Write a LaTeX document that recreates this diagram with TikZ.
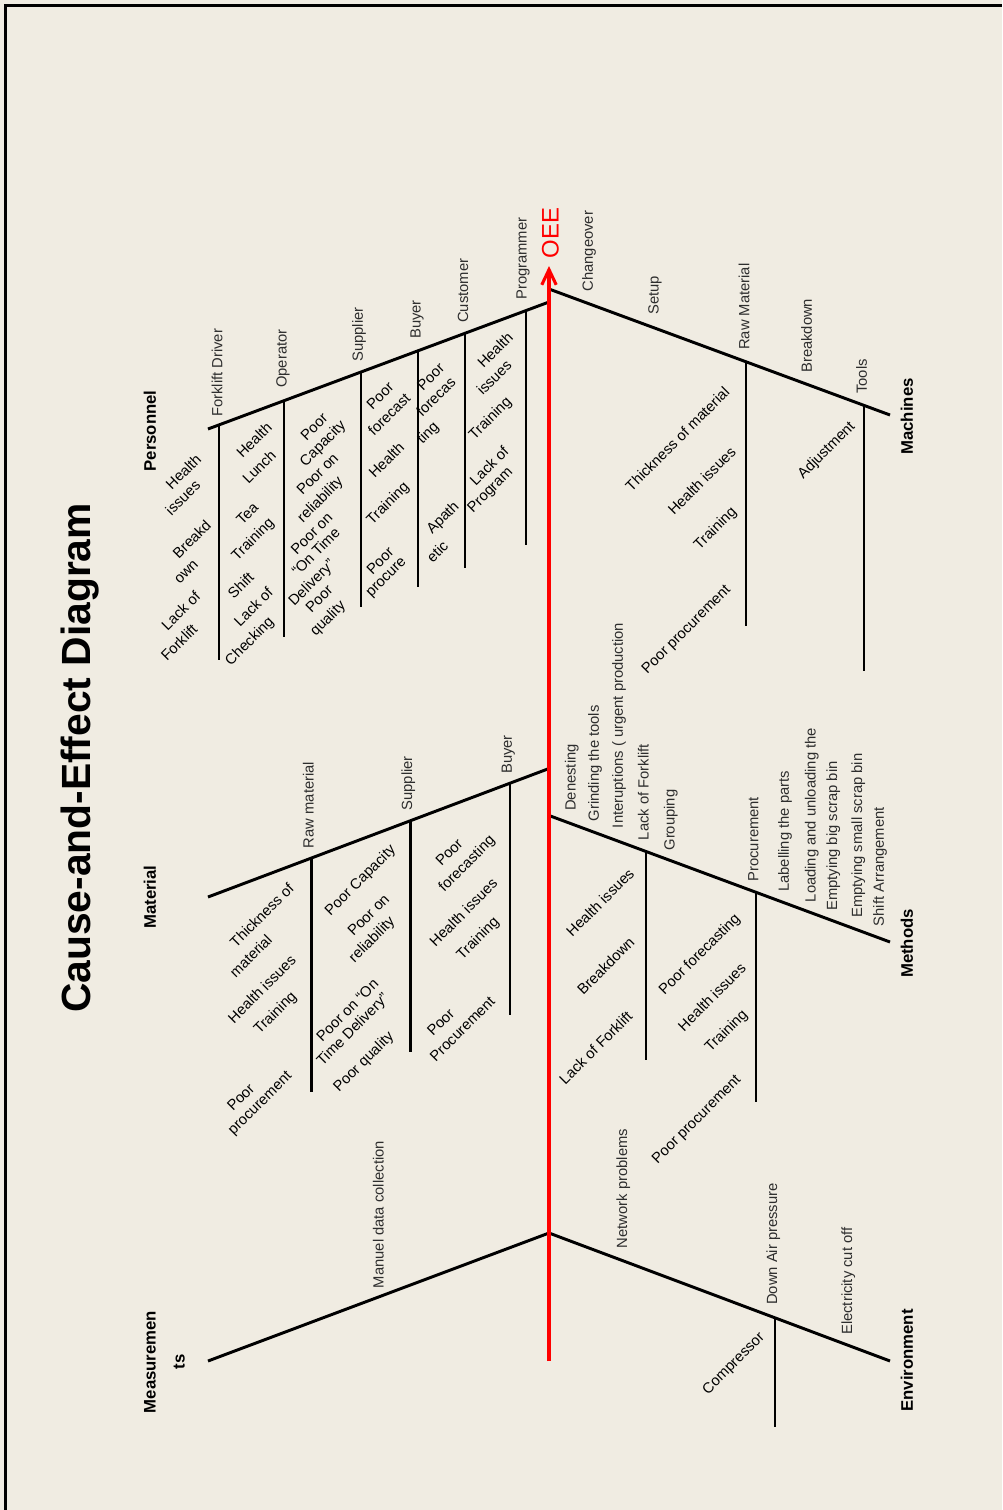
\documentclass[tikz,border=0pt]{standalone}
\usepackage{fontspec}
\setmainfont{Liberation Sans}
\usetikzlibrary{arrows.meta}
\definecolor{paper}{RGB}{240,236,226}
\definecolor{labelink}{RGB}{45,45,45}
\definecolor{spinered}{RGB}{255,0,0}

\begin{document}
\begin{tikzpicture}[x=0.025cm,y=-0.025cm,
  bone/.style={line width=2.1pt},
  twig/.style={line width=2pt},
  spine/.style={line width=2.2pt, draw=spinered, -{Straight Barb[length=3.8mm,width=3.6mm]}},
  lbl/.style={rotate=90, anchor=west, inner sep=0pt, text=labelink, font=\fontsize{10.5}{12.6}\selectfont},
  cause/.style={rotate=45, inner sep=0pt, font=\fontsize{10.5}{12.6}\selectfont},
  cat/.style={rotate=90, inner sep=0pt, align=center, font=\bfseries\fontsize{11.9}{20.6}\selectfont},
]
% page and frame
\fill[paper] (0,0) rectangle (1002,1510);
\useasboundingbox (0,0) rectangle (1002,1510);
\coordinate (frame-tl) at (5.2,5.5);
\coordinate (frame-tr) at (1002,5.5);
\coordinate (frame-bl) at (5.2,1510);
\draw[line width=2.2pt] (frame-bl) -- (frame-tl) -- (frame-tr);

% title
\node[rotate=90, inner sep=0pt, font=\bfseries\fontsize{29}{34}\selectfont] (title) at (80,758) {Cause-and-Effect Diagram};

% main bones
\coordinate (pe-end) at (208,429);   \coordinate (pe-root) at (549,302);
\coordinate (ma-root) at (549,289);  \coordinate (ma-end) at (890,415);
\coordinate (mt-end) at (208,897);   \coordinate (mt-root) at (549,768.5);
\coordinate (me-root) at (549,815.5); \coordinate (me-end) at (890,942);
\coordinate (ms-end) at (208,1361);  \coordinate (ms-root) at (549,1233);
\coordinate (en-root) at (549,1233); \coordinate (en-end) at (890,1361);
\draw[bone] (pe-end) -- (pe-root);
\draw[bone] (ma-root) -- (ma-end);
\draw[bone] (mt-end) -- (mt-root);
\draw[bone] (me-root) -- (me-end);
\draw[bone] (ms-end) -- (ms-root);
\draw[bone] (en-root) -- (en-end);

% sub-cause lines hanging from the bones
\foreach \n/\x/\ya/\yb in {
  fd/219/424.9/660, op/284/400.7/637, su/361/372/607, bu/418/350.8/587,
  cu/465/333.3/568, pr/526/310.6/545,
  rm/746/361.8/626, to/864/405.4/671,
  mr/311.5/858/1092, ms/410.5/820.7/1052, mb/510/783.2/1015,
  lf/646/851.5/1060, pc/756/892.3/1102,
  da/775/1317.8/1427}{
  \coordinate (\n-a) at (\x,\ya);
  \coordinate (\n-b) at (\x,\yb);
  \draw[twig] (\n-a) -- (\n-b);
}

% spine with the effect
\coordinate (spine-tail) at (549,1361);
\coordinate (spine-head) at (549,266);
\draw[spine] (spine-tail) -- (spine-head);
\node[rotate=90, inner sep=0pt, text=spinered, font=\fontsize{17}{20}\selectfont] (oee) at (550.5,233) {OEE};

% categories
\node[cat] (personnel) at (150,431) {Personnel};
\node[cat] (material) at (150,897) {Material};
\node[cat] (measurements) at (164.5,1362) {Measuremen\\ts};
\node[cat] (machines) at (907,416.5) {Machines};
\node[cat] (methods) at (907,943.5) {Methods};
\node[cat] (environment) at (907,1360.5) {Environment};

% Personnel: sub-cause labels
\node[lbl] (l-fd) at (217,417) {Forklift Driver};
\node[lbl] (l-op) at (283,388) {Operator};
\node[lbl] (l-su) at (359,362) {Supplier};
\node[lbl] (l-bu) at (417,339) {Buyer};
\node[lbl] (l-cu) at (463,323) {Customer};
\node[lbl] (l-pr) at (523,300) {Programmer};

% Machines: sub-cause labels
\node[lbl] (l-co) at (589,291.7) {Changeover};
\node[lbl] (l-se) at (655,315) {Setup};
\node[lbl] (l-rm) at (744,350) {Raw Material};
\node[lbl] (l-bd) at (806.7,373) {Breakdown};
\node[lbl] (l-to) at (861.7,394) {Tools};

% Material: sub-cause labels
\node[lbl] (l-mr) at (308.3,848.3) {Raw material};
\node[lbl] (l-ms) at (408.3,810.7) {Supplier};
\node[lbl] (l-mb) at (508.3,774) {Buyer};

% Methods: sub-cause labels
\node[lbl] (l-dn) at (571.7,811) {Denesting};
\node[lbl] (l-gr) at (595,821.4) {Grinding the tools};
\node[lbl] (l-in) at (619,828.3) {Interuptions ( urgent production};
\node[lbl] (l-lf) at (643.3,840.4) {Lack of Forklift};
\node[lbl] (l-gp) at (670.7,850.7) {Grouping};
\node[lbl] (l-pc) at (753.3,881.7) {Procurement};
\node[lbl] (l-lb) at (785,892) {Labelling the parts};
\node[lbl] (l-lo) at (811.7,902.4) {Loading and unloading the};
\node[lbl] (l-eb) at (833.3,911) {Emptying big scrap bin};
\node[lbl] (l-es) at (858.3,918) {Emptying small scrap bin};
\node[lbl] (l-sa) at (880,926.5) {Shift Arrangement};

% Measurements and Environment: sub-cause labels
\node[lbl] (l-md) at (378.3,1288.3) {Manuel data collection};
\node[lbl] (l-nw) at (623.3,1248.3) {Network problems};
\node[lbl] (l-da) at (773.3,1305) {Down Air pressure};
\node[lbl] (l-ec) at (848.3,1335) {Electricity cut off};

% Personnel: causes
\node[cause] (c-fd1) at (183.3,471.7) {Health};
\node[cause] (c-fd2) at (182.7,497.7) {issues};
\node[cause] (c-fd3) at (191.7,539) {Breakd};
\node[cause] (c-fd4) at (186.7,572.3) {own};
\node[cause] (c-fd5) at (180.7,610.7) {Lack of};
\node[cause] (c-fd6) at (179,642.3) {Forklift};
\node[cause] (c-op1) at (254,440) {Health};
\node[cause] (c-op2) at (259,466.7) {Lunch};
\node[cause] (c-op3) at (247.3,513.3) {Tea};
\node[cause] (c-op4) at (253.3,540) {Training};
\node[cause] (c-op5) at (240.7,585) {Shift};
\node[cause] (c-op6) at (253.3,606.7) {Lack of};
\node[cause] (c-op7) at (250,641.7) {Checking};
\node[cause] (c-su1) at (314,426.7) {Poor};
\node[cause] (c-su2) at (323.3,444) {Capacity};
\node[cause] (c-su3) at (317.3,474) {Poor on};
\node[cause] (c-su4) at (320.7,500) {reliability};
\node[cause] (c-su5) at (311.7,533.3) {Poor on};
\node[cause] (c-su6) at (315.7,551.7) {“On Time};
\node[cause] (c-su7) at (312.3,583.3) {Delivery”};
\node[cause] (c-su8) at (319,599) {Poor};
\node[cause] (c-su9) at (328.3,619) {quality};
\node[cause] (c-bu1) at (380,396) {Poor};
\node[cause] (c-bu2) at (389,414) {forecast};
\node[cause] (c-bu3) at (386.3,460) {Health};
\node[cause] (c-bu4) at (388.3,504) {Training};
\node[cause] (c-bu5) at (380,560.7) {Poor};
\node[cause] (c-bu6) at (387.3,578.3) {procure};
\node[cause] (c-cu1) at (430.7,376.7) {Poor};
\node[cause] (c-cu2) at (435.7,396.7) {forecas};
\node[cause] (c-cu3) at (428.3,433.3) {ting};
\node[cause] (c-cu4) at (443.3,518.3) {Apath};
\node[cause] (c-cu5) at (437.3,551.7) {etic};
\node[cause] (c-pr1) at (495,350) {Health};
\node[cause] (c-pr2) at (494,377.3) {issues};
\node[cause] (c-pr3) at (490.7,419) {Training};
\node[cause] (c-pr4) at (489,465.7) {Lack of};
\node[cause] (c-pr5) at (490.7,490.7) {Program};

% Machines: causes
\node[cause] (c-rm1) at (677.3,439) {Thickness of material};
\node[cause] (c-rm2) at (701.7,480.7) {Health issues};
\node[cause] (c-rm3) at (715.7,529) {Training};
\node[cause] (c-rm4) at (686.7,630) {Poor procurement};
\node[cause] (c-to1) at (826.7,450.7) {Adjustment};

% Material: causes
\node[cause] (c-mr1) at (261.7,915) {Thickness of};
\node[cause] (c-mr2) at (250.7,955.7) {material};
\node[cause] (c-mr3) at (261.7,989) {Health issues};
\node[cause] (c-mr4) at (275.7,1013.3) {Training};
\node[cause] (c-mr5) at (240.7,1097.3) {Poor};
\node[cause] (c-mr6) at (260.7,1104) {procurement};
\node[cause] (c-ms1) at (360.7,880.7) {Poor Capacity};
\node[cause] (c-ms2) at (368.3,915) {Poor on};
\node[cause] (c-ms3) at (372.3,940) {reliability};
\node[cause] (c-ms4) at (347.3,1010) {Poor on “On};
\node[cause] (c-ms5) at (353.3,1030) {Time Delivery”};
\node[cause] (c-ms6) at (364,1062.3) {Poor quality};
\node[cause] (c-mb1) at (449,852.3) {Poor};
\node[cause] (c-mb2) at (467.3,864) {forecasting};
\node[cause] (c-mb3) at (463.3,912.3) {Health issues};
\node[cause] (c-mb4) at (478.3,939) {Training};
\node[cause] (c-mb5) at (440.7,1022.3) {Poor};
\node[cause] (c-mb6) at (462.3,1029) {Procurement};

% Methods: causes
\node[cause] (c-lf1) at (600,902.4) {Health issues};
\node[cause] (c-lf2) at (605.7,966) {Breakdown};
\node[cause] (c-lf3) at (595.7,1047.8) {Lack of Forklift};
\node[cause] (c-pc1) at (700,954.7) {Poor forecasting};
\node[cause] (c-pc2) at (711.7,997) {Health issues};
\node[cause] (c-pc3) at (726.7,1031.5) {Training};
\node[cause] (c-pc4) at (697,1120) {Poor procurement};

% Environment: causes
\node[cause] (c-da1) at (734,1364) {Compressor};
\end{tikzpicture}
\end{document}
